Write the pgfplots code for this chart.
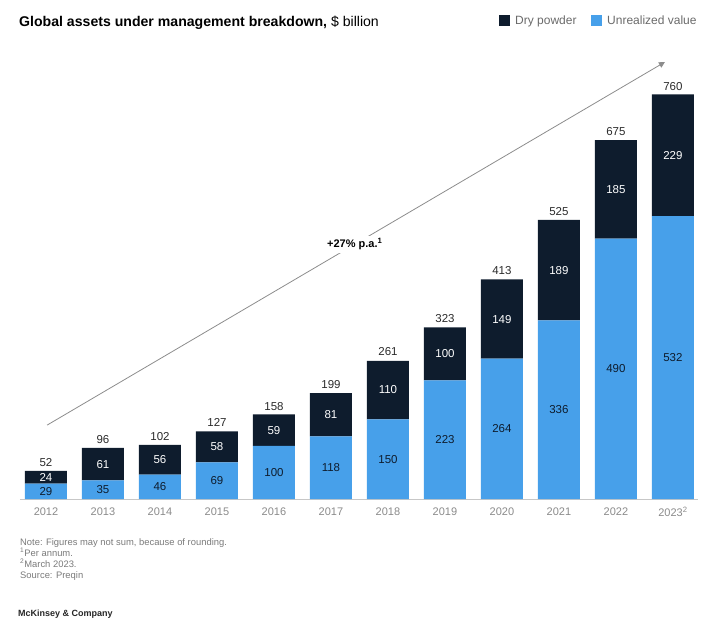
\documentclass[border=0pt]{standalone}
\usepackage{fontspec}
\setmainfont{Liberation Sans}
\usepackage{pgfplots}
\pgfplotsset{compat=1.18}
\usepackage{pgfplotstable}
\usetikzlibrary{arrows.meta}

\definecolor{drycol}{HTML}{0E1C2D}
\definecolor{unrcol}{HTML}{47A0EA}
\definecolor{yeargray}{HTML}{8A8A8A}
\definecolor{notegray}{HTML}{7A7A7A}
\definecolor{totcol}{HTML}{2A2A2A}
\definecolor{legtext}{HTML}{6A6A6A}

% year index, dry powder, unrealized value, reported total ($ billion)
\pgfplotstableread{
x dry unreal total
0 24 29 52
1 61 35 96
2 56 46 102
3 58 69 127
4 59 100 158
5 81 118 199
6 110 150 261
7 100 223 323
8 149 264 413
9 189 336 525
10 185 490 675
11 229 532 760
}\aumdata

\pgfplotsset{
  aumframe/.style={
    at={(20pt,136pt)}, anchor=south west,
    scale only axis, width=678pt, height=425.3pt,
    xmin=-0.456, xmax=11.44, ymin=0, ymax=800,
    clip=false,
    /pgf/number format/assume math mode=true,
  },
}

\begin{document}
\begin{tikzpicture}
\useasboundingbox (0,0) rectangle (720pt,635pt);

% stacked bars, segment values centred in each segment
\begin{axis}[aumframe,
  ybar stacked, bar width=42pt,
  axis x line*=bottom, axis y line=none,
  x axis line style={draw=black!22, line width=0.9pt},
  xtick=data, major tick length=0pt,
  xticklabels={2012,2013,2014,2015,2016,2017,2018,2019,2020,2021,2022,2023\textsuperscript{2}},
  xticklabel style={text=yeargray, font=\fontsize{11}{13}\selectfont, yshift=-5pt},
  ytick=\empty,
  point meta=explicit,
  nodes near coords={\pgfmathprintnumber{\pgfplotspointmeta}},
  every node near coord/.append style={anchor=center,
     font=\fontsize{11.5}{13}\selectfont},
]
\addplot[fill=unrcol, draw=none, nodes near coords style={text=drycol}]
  table[x=x, y=unreal, meta=unreal] {\aumdata};
\addplot[fill=drycol, draw=none, nodes near coords style={text=white}]
  table[x=x, y=dry, meta=dry] {\aumdata};
\end{axis}

% totals and growth arrow
\begin{axis}[aumframe, axis lines=none, ticks=none,
  point meta=explicit,
  nodes near coords={\pgfmathprintnumber{\pgfplotspointmeta}},
  every node near coord/.append style={anchor=south, yshift=1pt, text=totcol,
     font=\fontsize{11.5}{13}\selectfont},
]
\addplot[draw=none, mark=none] table[x=x, y=total, meta=total] {\aumdata};
\draw[black!45, line width=0.8pt, -{Triangle[length=6pt, width=6pt]}]
  (axis cs:0.02,139) -- node[pos=0.498, fill=white, inner sep=3pt, text=black,
     font=\bfseries\fontsize{11}{13}\selectfont] {+27\% p.a.\textsuperscript{1}}
  (axis cs:10.86,822);
\end{axis}

% title
\node[anchor=base west, inner sep=0pt, text=black, font=\fontsize{14.1}{16}\selectfont]
  at (19pt,608pt) {\textbf{Global assets under management breakdown,} \$ billion};

% legend
\fill[drycol] (499pt,609pt) rectangle (510pt,620pt);
\node[anchor=base west, inner sep=0pt, text=legtext, font=\fontsize{12}{13}\selectfont]
  at (515pt,610pt) {Dry powder};
\fill[unrcol] (591pt,609pt) rectangle (602pt,620pt);
\node[anchor=base west, inner sep=0pt, text=legtext, font=\fontsize{12}{13}\selectfont]
  at (607pt,610pt) {Unrealized value};

% notes
\node[anchor=north west, inner sep=0pt, align=left, text=notegray,
      font=\fontsize{9.4}{11}\selectfont] at (20pt,97pt)
  {Note: Figures may not sum, because of rounding.\\
   \textsuperscript{1}Per annum.\\
   \textsuperscript{2}March 2023.\\
   Source: Preqin};
\node[anchor=base west, inner sep=0pt, text=black!85,
      font=\bfseries\fontsize{9}{11}\selectfont] at (18pt,19pt) {McKinsey \& Company};
\end{tikzpicture}
\end{document}
